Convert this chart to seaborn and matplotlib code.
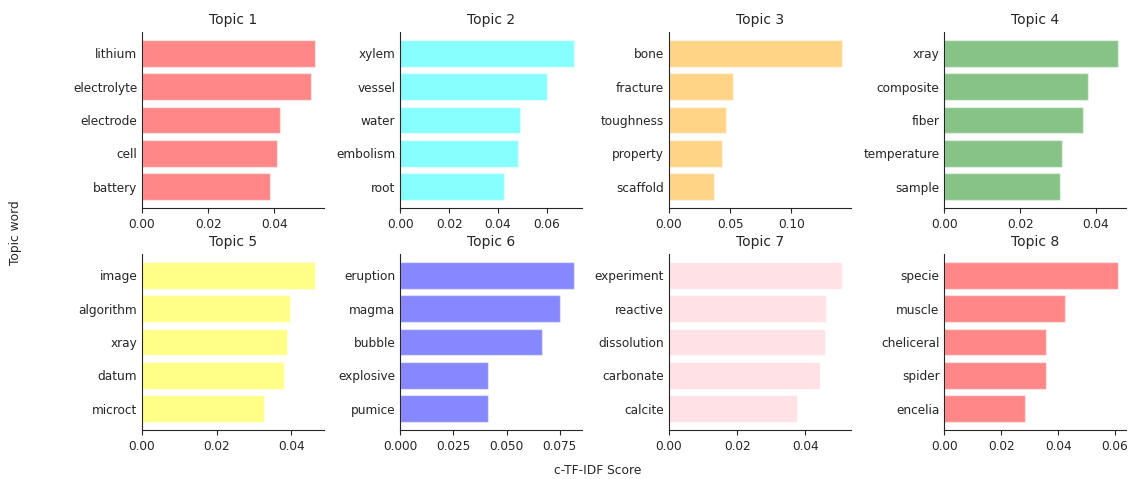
import matplotlib
matplotlib.use("Agg")
import matplotlib.pyplot as plt
from matplotlib.ticker import MaxNLocator
import seaborn as sns
import pandas as pd

topic_titles = ["Topic 1", "Topic 2", "Topic 3", "Topic 4",
                "Topic 5", "Topic 6", "Topic 7", "Topic 8"]

topic1_words = ["lithium", "electrolyte", "electrode", "cell", "battery"]
topic1_scores = [0.0524, 0.0511, 0.0417, 0.0407, 0.0386]

topic2_words = ["xylem", "vessel", "water", "embolism", "root"]
topic2_scores = [0.0709, 0.0602, 0.0490, 0.0480, 0.0425]

topic3_words = ["bone", "fracture", "toughness", "property", "scaffold"]
topic3_scores = [0.1419, 0.0520, 0.0466, 0.0430, 0.0367]

topic4_words = ["xray", "composite", "fiber", "temperature", "sample"]
topic4_scores = [0.0457, 0.0379, 0.0365, 0.0310, 0.0304]

topic5_words = ["image", "algorithm", "xray", "datum", "microct"]
topic5_scores = [0.0464, 0.0396, 0.0389, 0.0381, 0.0327]

topic6_words = ["eruption", "magma", "bubble", "explosive", "pumice"]
topic6_scores = [0.0815, 0.0753, 0.0666, 0.0414, 0.0411]

topic7_words = ["experiment", "reactive", "dissolution", "carbonate", "calcite"]
topic7_scores = [0.0508, 0.0461, 0.0457, 0.0442, 0.0376]

topic8_words = ["specie", "muscle", "cheliceral", "spider", "encelia"]
topic8_scores = [0.0609, 0.0423, 0.0357, 0.0357, 0.0285]

topic_colors = ["red", "cyan", "orange", "green", "yellow", "blue", "pink", "red"]

all_words = [topic1_words, topic2_words, topic3_words, topic4_words,
             topic5_words, topic6_words, topic7_words, topic8_words]
all_scores = [topic1_scores, topic2_scores, topic3_scores, topic4_scores,
              topic5_scores, topic6_scores, topic7_scores, topic8_scores]

sns.set_style("ticks")
plt.rcParams["font.family"] = ["DejaVu Sans"]

fig, axes = plt.subplots(2, 4, figsize=(11.29, 4.79), dpi=100)
W, H = 1129.0, 479.0
lefts = [142, 400.3, 669, 944.3]
tops = [32, 254]
aw, ah = 182, 176

for i, ax in enumerate(axes.flat):
    r, c = divmod(i, 4)
    ax.set_position([lefts[c] / W, 1 - (tops[r] + ah) / H, aw / W, ah / H])
    df = pd.DataFrame({"word": all_words[i], "score": all_scores[i]})
    sns.barplot(data=df, x="score", y="word", color=topic_colors[i],
                saturation=1, alpha=0.47, ax=ax, orient="h", width=0.8)
    ax.set_ylim(4.64, -0.64)
    ax.set_xlim(0, max(all_scores[i]) * 1.05)
    ax.xaxis.set_major_locator(MaxNLocator(nbins=4, steps=[1, 2, 2.5, 5, 10]))
    ax.set_title(topic_titles[i], fontsize=10)
    ax.set_xlabel("")
    ax.set_ylabel("")
    ax.tick_params(axis="both", labelsize=8.75, length=3.5)
    ax.tick_params(axis="y", length=0)
    sns.despine(ax=ax)

fig.text(597.5 / W, 1 - 471 / H, "c-TF-IDF Score", ha="center", va="center", fontsize=8.85)
fig.text(16 / W, 1 - 233 / H, "Topic word", ha="center", va="center",
         rotation=90, fontsize=8.85)

fig.savefig("out.png", dpi=100)
